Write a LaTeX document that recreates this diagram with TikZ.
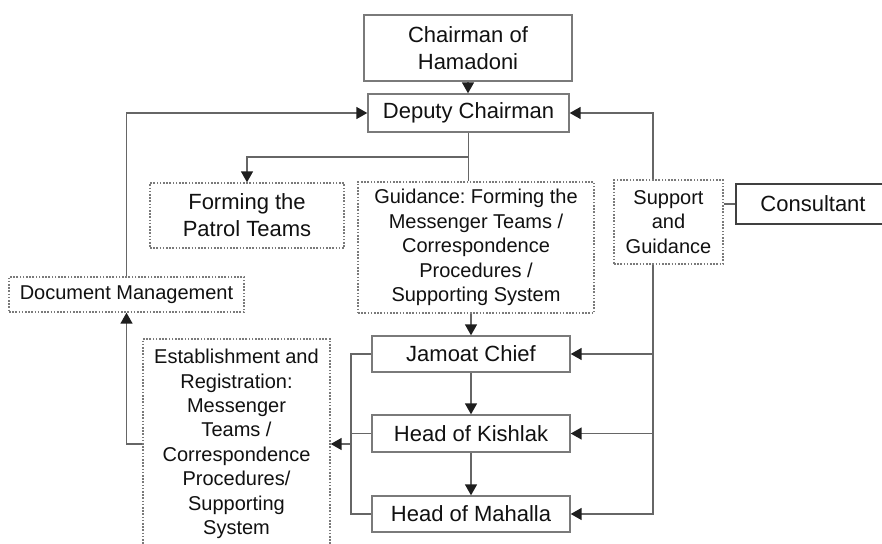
\documentclass[tikz,border=0pt]{standalone}
\usepackage{fontspec}
\setmainfont{Liberation Sans}
\usetikzlibrary{arrows.meta}
\definecolor{boxline}{HTML}{7A7A7A}
\definecolor{conline}{HTML}{666666}
\definecolor{txt}{HTML}{111111}
\definecolor{tipcol}{HTML}{1E1E1E}
\frenchspacing
\begin{document}
\begin{tikzpicture}[x=1pt,y=-1pt,
  bigtext/.style={font=\frenchspacing\fontsize{22}{27}\selectfont},
  smalltext/.style={font=\frenchspacing\fontsize{20}{24.4}\selectfont},
  solidbox/.style={draw=boxline,line width=1.4pt,fill=white,text=txt,inner sep=0pt,align=center},
  dotbox/.style={draw=boxline,line width=1.4pt,dash pattern=on 1.6pt off 1.6pt,fill=white,text=txt,inner sep=0pt,align=center},
  con/.style={draw=conline,line width=1.5pt},
  arr/.style={con,-{Triangle[length=11pt,width=12pt,color=tipcol,fill=tipcol]}}
]
\useasboundingbox (0,0) rectangle (882,543);
\clip (0,0) rectangle (882,543);
\fill[white] (0,0) rectangle (882,543);

\node[solidbox,bigtext,minimum width=208,minimum height=66] (chair) at (468,48) {Chairman of\\Hamadoni};
\node[solidbox,bigtext,minimum width=201,minimum height=38] (deputy) at (468.5,113) {Deputy Chairman};
\node[dotbox,bigtext,minimum width=194,minimum height=65] (patrol) at (247,215.5) {Forming the\\Patrol Teams};
\node[dotbox,smalltext,minimum width=236,minimum height=131] (guid) at (476,247.5) {Guidance: Forming the\\Messenger Teams /\\Correspondence\\Procedures /\\Supporting System};
\node[dotbox,smalltext,minimum width=109,minimum height=84] (support) at (668.5,222) {Support\\and\\Guidance};
\node[draw=black!75,line width=2.2pt,fill=white,text=txt,inner sep=0pt,bigtext,minimum width=154,minimum height=40] (consult) at (813,204) {Consultant};
\node[dotbox,smalltext,minimum width=235,minimum height=35] (docm) at (126.5,294.5) {Document Management};
\node[dotbox,smalltext,minimum width=187,minimum height=210] (estab) at (236.5,444) {Establishment and\\Registration:\\Messenger\\Teams /\\Correspondence\\Procedures/\\Supporting\\System};
\node[solidbox,bigtext,minimum width=198,minimum height=36] (jamoat) at (471,354) {Jamoat Chief};
\node[solidbox,bigtext,minimum width=198,minimum height=37] (kishlak) at (471,433.5) {Head of Kishlak};
\node[solidbox,bigtext,minimum width=198,minimum height=36] (mahalla) at (471,514) {Head of Mahalla};

\coordinate (br) at (468.5,157);
\coordinate (sx) at (653,0);
\coordinate (lx) at (351,0);

% top
\draw[arr] (chair.south) -- (chair.south |- deputy.north);
\draw[arr] (docm.north) |- (deputy.west);
\draw[con] (deputy.south) -- (deputy.south |- guid.north);
\draw[arr] (br) -| (patrol.north);
\draw[arr] (sx |- support.north) |- (deputy.east);
\draw[con] (support.east |- consult.west) -- (consult.west);

% chain
\draw[arr] (jamoat.north |- guid.south) -- (jamoat.north);
\draw[arr] (jamoat.south) -- (kishlak.north);
\draw[arr] (kishlak.south) -- (mahalla.north);

% right bus
\draw[arr] (sx |- support.south) |- (mahalla.east);
\draw[arr] (sx |- jamoat.east) -- (jamoat.east);
\draw[arr] (sx |- kishlak.east) -- (kishlak.east);

% left bus
\draw[con] (jamoat.west) -- (lx |- jamoat.west) -- (lx |- mahalla.west) -- (mahalla.west);
\draw[con] (kishlak.west) -- (lx |- kishlak.west);
\draw[arr] (lx |- estab.east) -- (estab.east);
\draw[arr] (estab.west) -| (docm.south);
\end{tikzpicture}
\end{document}
